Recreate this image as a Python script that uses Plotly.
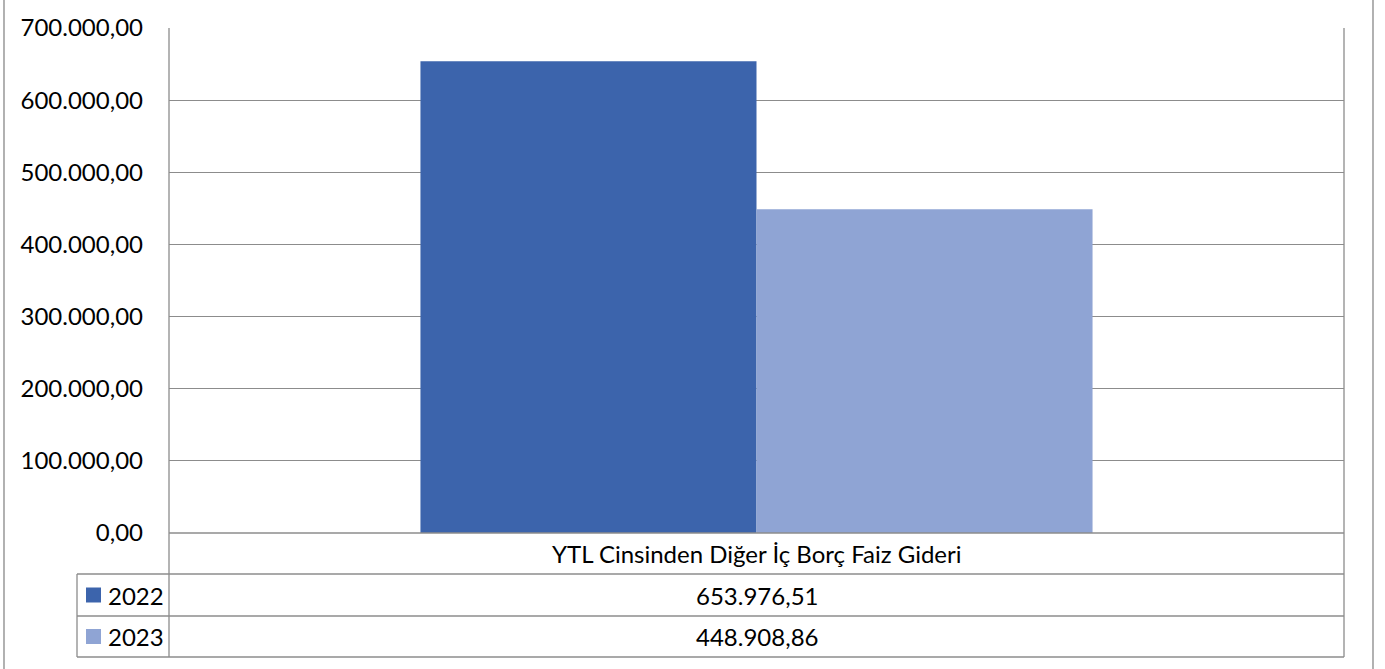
import plotly.graph_objects as go

categories = ["YTL Cinsinden Diğer İç Borç Faiz Gideri"]
series_names = ["2022", "2023"]
values_2022 = [653976.51]
values_2023 = [448908.86]
colors = ["#3C64AC", "#8FA4D4"]
y_ticks = [0, 100000, 200000, 300000, 400000, 500000, 600000, 700000]

def tr(v):
    s = f"{v:,.2f}"
    return s.replace(",", "X").replace(".", ",").replace("X", ".")

W, H = 1385, 669
L, R, T, B = 169, 1344, 28, 533
FONT = "Lato"
FS = 24
GRID = "#8C8C8C"

def px(x):
    return (x - L) / (R - L)

def py(y):
    return (B - y) / (B - T)

fig = go.Figure()
series_values = [values_2022, values_2023]
for name, vals, col in zip(series_names, series_values, colors):
    fig.add_trace(go.Bar(x=categories, y=vals, name=name, marker=dict(color=col, line=dict(width=0))))

shapes = []
def line(x0, y0, x1, y1, color=GRID, w=1.3):
    shapes.append(dict(type="line", xref="paper", yref="paper",
                       x0=px(x0), y0=py(y0), x1=px(x1), y1=py(y1),
                       line=dict(color=color, width=w), layer="above"))

# table / frame lines
line(L, T, L, 657)
line(R, T, R, 657)
line(L, B, R, B)
line(77, 574, R, 574)
line(77, 616, R, 616)
line(77, 657, R, 657)
line(77, 574, 77, 657)
# outer chart border
line(4, -5, 4, 675, color="#888888", w=1.3)
line(1373, -5, 1373, 675, color="#888888", w=1.3)

annotations = []
annotations.append(dict(xref="paper", yref="paper", x=0.5, y=py(553.5), text=categories[0],
                        showarrow=False, xanchor="center", yanchor="middle",
                        font=dict(family=FONT, size=FS, color="#000")))
row_centers = [595, 636.5]
for i, (name, vals, col) in enumerate(zip(series_names, series_values, colors)):
    yc = row_centers[i]
    shapes.append(dict(type="rect", xref="paper", yref="paper",
                       x0=px(86), x1=px(101), y0=py(yc - 7.5), y1=py(yc + 7.5),
                       fillcolor=col, line=dict(width=0), layer="above"))
    annotations.append(dict(xref="paper", yref="paper", x=px(106), y=py(yc), text=name,
                            showarrow=False, xanchor="left", yanchor="middle",
                            font=dict(family=FONT, size=FS, color="#000")))
    annotations.append(dict(xref="paper", yref="paper", x=0.5, y=py(yc), text=tr(vals[0]),
                            showarrow=False, xanchor="center", yanchor="middle",
                            font=dict(family=FONT, size=FS, color="#000")))

fig.update_layout(
    width=W, height=H,
    margin=dict(l=L, r=W - R, t=T, b=H - B, pad=0),
    paper_bgcolor="white", plot_bgcolor="white",
    barmode="group", bargap=0.428, bargroupgap=0,
    showlegend=False,
    shapes=shapes, annotations=annotations,
    xaxis=dict(showticklabels=False, showgrid=False, zeroline=False, showline=False, ticks=""),
    yaxis=dict(range=[0, 700000], tickvals=y_ticks, ticktext=[tr(v) for v in y_ticks],
               showgrid=True, gridcolor=GRID, gridwidth=1.3, zeroline=False, showline=False,
               ticks="", ticklabelstandoff=25,
               tickfont=dict(family=FONT, size=FS, color="#000")),
)

fig.write_html("out.html", config={"displayModeBar": False},
               post_script="document.body.style.margin='0';document.body.style.overflow='hidden';")
